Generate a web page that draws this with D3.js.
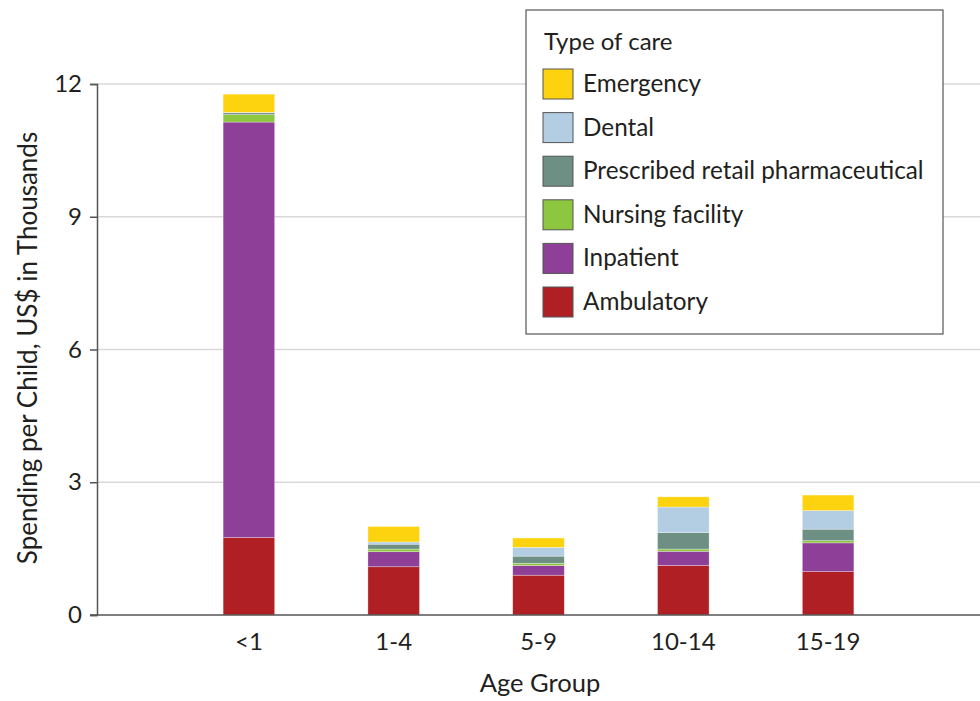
<!DOCTYPE html>
<html>
<head>
<meta charset="utf-8">
<script src="https://cdn.jsdelivr.net/npm/d3@7"></script>
<style>
  body { margin: 0; background: #fff; }
  svg text { font-family: Lato, "Noto Sans", sans-serif; fill: #231f20; }
</style>
</head>
<body>
<div id="chart"></div>
<script>
const ageGroups = ["<1", "1-4", "5-9", "10-14", "15-19"];
const careTypes = ["Ambulatory", "Inpatient", "Nursing facility", "Prescribed retail pharmaceutical", "Dental", "Emergency"];
const careColors = ["#b01f24", "#8e3f97", "#8dc63f", "#6e8f84", "#b3cde3", "#fdd20e"];
const yTicks = [0, 3, 6, 9, 12];

// spending per child, US$ thousands, one array per type of care (order of ageGroups)
const ambulatory = [1.75, 1.09, 0.90, 1.12, 0.98];
const inpatient = [9.39, 0.34, 0.22, 0.32, 0.65];
const nursing = [0.17, 0.06, 0.05, 0.05, 0.05];
const pharmaceutical = [0.04, 0.11, 0.16, 0.37, 0.26];
const dental = [0.01, 0.05, 0.20, 0.58, 0.42];
const emergency = [0.41, 0.35, 0.21, 0.23, 0.35];

const series = [ambulatory, inpatient, nursing, pharmaceutical, dental, emergency];
const table = ageGroups.map((g, i) => {
    const row = { group: g };
    careTypes.forEach((c, k) => row[c] = series[k][i]);
    return row;
});

const width = 980, height = 701;
const margin = { top: 84, right: 0, bottom: 86, left: 97 };

const svg = d3.select("#chart")
    .append("svg")
    .attr("width", width)
    .attr("height", height);

const x = d3.scaleBand()
    .domain(ageGroups)
    .range([margin.left, width - margin.right])
    .paddingInner(0.644)
    .paddingOuter(0.871);

const y = d3.scaleLinear()
    .domain([0, 12])
    .range([height - margin.bottom, margin.top]);

// gridlines
svg.append("g")
    .selectAll("line")
    .data(yTicks.filter(d => d > 0))
    .enter().append("line")
    .attr("x1", margin.left)
    .attr("x2", width - margin.right)
    .attr("y1", d => y(d))
    .attr("y2", d => y(d))
    .attr("stroke", "#d9d9d9")
    .attr("stroke-width", 1.5);

const stack = d3.stack().keys(careTypes)(table);

svg.append("g")
    .selectAll("g")
    .data(stack)
    .enter().append("g")
    .attr("fill", (d, i) => careColors[i])
    .selectAll("rect")
    .data(d => d)
    .enter().append("rect")
    .attr("x", d => x(d.data.group))
    .attr("width", x.bandwidth())
    .attr("y", d => y(d[1]))
    .attr("height", d => y(d[0]) - y(d[1]))
    .attr("stroke", "#fff")
    .attr("stroke-opacity", 0.5)
    .attr("stroke-width", 0.6);

// y axis
const yAxis = svg.append("g")
    .attr("transform", `translate(${margin.left},0)`)
    .call(d3.axisLeft(y).tickValues(yTicks).tickSize(7).tickPadding(8));
yAxis.select(".domain").attr("stroke", "#555").attr("stroke-width", 1.5);
yAxis.selectAll(".tick line").attr("stroke", "#555").attr("stroke-width", 1.5);
yAxis.selectAll(".tick text").attr("font-size", 24).attr("fill", "#231f20")
    .style("font-family", "Lato, 'Noto Sans', sans-serif");

// x axis
const xAxis = svg.append("g")
    .attr("transform", `translate(0,${y(0)})`)
    .call(d3.axisBottom(x).tickSize(0).tickPadding(18));
xAxis.select(".domain")
    .attr("d", `M${margin.left - 7},0H${width}`)
    .attr("stroke", "#555").attr("stroke-width", 1.5);
xAxis.selectAll(".tick text").attr("font-size", 24).attr("fill", "#231f20")
    .style("font-family", "Lato, 'Noto Sans', sans-serif");

// axis titles
svg.append("text")
    .attr("x", 540)
    .attr("y", 692)
    .attr("text-anchor", "middle")
    .attr("font-size", 25.5)
    .text("Age Group");

svg.append("text")
    .attr("transform", "translate(37,348) rotate(-90)")
    .attr("text-anchor", "middle")
    .attr("font-size", 26)
    .text("Spending per Child, US$ in Thousands");

// legend
const legend = svg.append("g").attr("transform", "translate(526,10)");
legend.append("rect")
    .attr("width", 417)
    .attr("height", 324)
    .attr("fill", "#fff")
    .attr("stroke", "#555")
    .attr("stroke-width", 1.2);
legend.append("text")
    .attr("x", 18)
    .attr("y", 40)
    .attr("font-size", 24)
    .text("Type of care");

const legendItems = legend.selectAll("g.item")
    .data(careTypes.slice().reverse())
    .enter().append("g")
    .attr("class", "item")
    .attr("transform", (d, i) => `translate(17,${59 + i * 43.6})`);
legendItems.append("rect")
    .attr("width", 30)
    .attr("height", 30)
    .attr("fill", d => careColors[careTypes.indexOf(d)])
    .attr("stroke", "#555")
    .attr("stroke-width", 1);
legendItems.append("text")
    .attr("x", 40)
    .attr("y", 23)
    .attr("font-size", 24.3)
    .text(d => d);
</script>
</body>
</html>
